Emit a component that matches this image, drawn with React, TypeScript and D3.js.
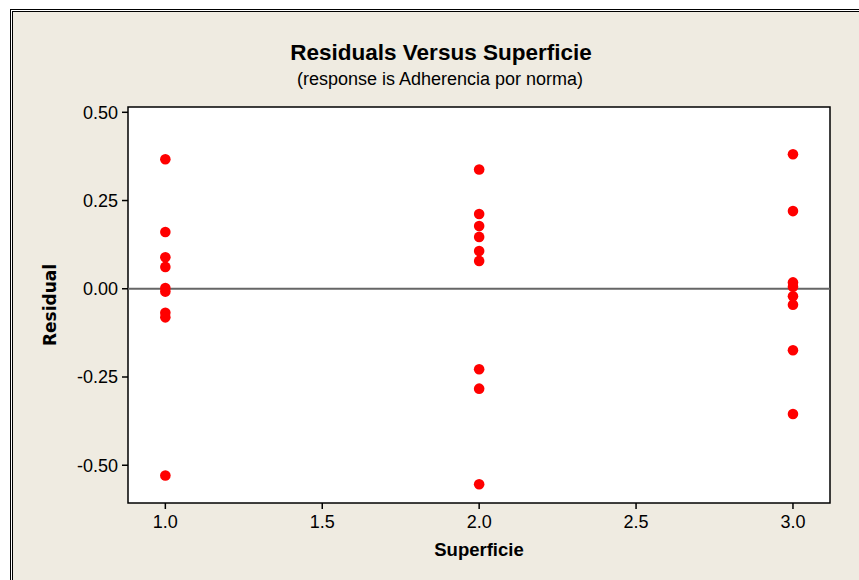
import * as d3 from "d3";

// residuals, grouped by Superficie level
const levels = [1, 2, 3];
const residuals1 = [0.367, 0.161, 0.089, 0.062, 0.002, -0.008, -0.068, -0.081, -0.529];
const residuals2 = [0.338, 0.212, 0.178, 0.147, 0.107, 0.079, -0.228, -0.283, -0.554];
const residuals3 = [0.381, 0.22, 0.018, 0.006, -0.021, -0.045, -0.174, -0.355];
const xTicks = [1.0, 1.5, 2.0, 2.5, 3.0];
const yTicks = [0.5, 0.25, 0, -0.25, -0.5];

const W = 859, H = 580;
const plot = { left: 128, right: 830, top: 107, bottom: 503 };
const font = "'Liberation Sans', Arial, sans-serif";
const fmtY = (t: number) => t.toFixed(2);
const fmtX = (t: number) => t.toFixed(1);

const App = () => {
  const x = d3.scaleLinear().domain([0.881, 3.118]).range([plot.left, plot.right]);
  const y = d3.scaleLinear().domain([-0.607, 0.515]).range([plot.bottom, plot.top]);

  const points = [residuals1, residuals2, residuals3].flatMap((vals, i) =>
    vals.map((v) => ({ x: levels[i], y: v }))
  );

  return (
    <svg width={W} height={H} style={{ position: "absolute", left: 0, top: 0 }}>
      <rect x={0} y={0} width={W} height={H} fill="#ffffff" />
      <rect x={10.5} y={9.5} width={W + 20} height={H + 20} fill="#ffffff" stroke="#000" strokeWidth={1} />
      <rect x={12.5} y={11.5} width={W + 20} height={H + 20} fill="#EFEBE1" stroke="#000" strokeWidth={1} />

      <text x={441} y={60} textAnchor="middle" fontFamily={font} fontWeight="bold" fontSize={22.5} fill="#000">
        Residuals Versus Superficie
      </text>
      <text x={440} y={85} textAnchor="middle" fontFamily={font} fontSize={18} fill="#000">
        (response is Adherencia por norma)
      </text>

      <rect x={plot.left} y={plot.top} width={plot.right - plot.left} height={plot.bottom - plot.top}
        fill="#ffffff" stroke="#000" strokeWidth={1.5} />

      <line x1={plot.left} x2={plot.right} y1={y(0)} y2={y(0)} stroke="#666" strokeWidth={2} />

      {yTicks.map((t) => (
        <g key={t}>
          <line x1={plot.left - 6} x2={plot.left} y1={y(t)} y2={y(t)} stroke="#000" strokeWidth={1.5} />
          <text x={118} y={y(t)} dy="0.35em" textAnchor="end" fontFamily={font} fontSize={18} fill="#000">
            {fmtY(t)}
          </text>
        </g>
      ))}
      {xTicks.map((t) => (
        <g key={t}>
          <line x1={x(t)} x2={x(t)} y1={plot.bottom} y2={plot.bottom + 6} stroke="#000" strokeWidth={1.5} />
          <text x={x(t)} y={522} dy="0.35em" textAnchor="middle" fontFamily={font} fontSize={18} fill="#000">
            {fmtX(t)}
          </text>
        </g>
      ))}

      <text x={479} y={550} dy="0.35em" textAnchor="middle" fontFamily={font} fontWeight="bold" fontSize={18.5} fill="#000">
        Superficie
      </text>
      <text transform="translate(50,305) rotate(-90)" dy="0.35em" textAnchor="middle"
        fontFamily="'DejaVu Sans', Verdana, sans-serif" fontWeight="bold" fontSize={17} fill="#000">
        Residual
      </text>

      {points.map((p, i) => (
        <circle key={i} cx={x(p.x)} cy={y(p.y)} r={5.3} fill="#ff0000" />
      ))}
    </svg>
  );
};

export default App;
